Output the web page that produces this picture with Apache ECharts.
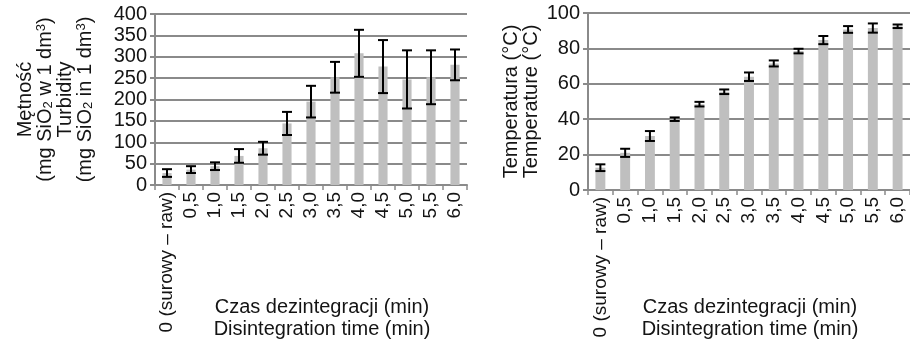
<!DOCTYPE html>
<html><head><meta charset="utf-8">
<script src="https://cdn.jsdelivr.net/npm/echarts@6/dist/echarts.min.js"></script>
<style>html,body{margin:0;padding:0;background:#fff}#c{width:910px;height:346px}</style>
</head><body><div id="c"></div>
<script>
const categories = ['0 (surowy – raw)','0,5','1,0','1,5','2,0','2,5','3,0','3,5','4,0','4,5','5,0','5,5','6,0'];
const turbidity = [28, 36, 44, 68, 86, 144, 195, 252, 308, 277, 247, 252, 281];
const turbidityErr = [9, 8, 9, 16, 15, 27, 37, 36, 55, 62, 68, 63, 36];
const temperature = [12.6, 21, 30.5, 40, 48.5, 55.5, 64, 71.5, 78.5, 84.7, 90.7, 91.5, 92.5];
const temperatureErr = [1.9, 2.3, 2.8, 1, 1.3, 1.3, 2.4, 1.7, 1.3, 2.3, 1.9, 2.6, 1];
const leftTicks = {min: 0, max: 400, interval: 50};
const rightTicks = {min: 0, max: 100, interval: 20};

const FONT = 'Liberation Sans';
const TXT = '#141414';
const GRID = '#8a8a8a';
const BAR = '#bfbfbf';

const rich = {
  t: {fontFamily: FONT, fontSize: 20, color: TXT, lineHeight: 20},
  sub: {fontFamily: FONT, fontSize: 13, color: TXT, verticalAlign: 'bottom'},
  sup: {fontFamily: FONT, fontSize: 13, color: TXT, verticalAlign: 'top'}
};

function errSeries(xi, yi, means, errs) {
  return {
    type: 'custom', xAxisIndex: xi, yAxisIndex: yi, silent: true, z: 5,
    data: means.map((m, i) => [i, m - errs[i], m + errs[i]]),
    renderItem: function (params, api) {
      const lo = api.coord([api.value(0), api.value(1)]);
      const hi = api.coord([api.value(0), api.value(2)]);
      const w = 5;
      const st = {stroke: '#000', lineWidth: 2};
      return {type: 'group', children: [
        {type: 'line', shape: {x1: lo[0], y1: lo[1], x2: hi[0], y2: hi[1]}, style: st},
        {type: 'line', shape: {x1: lo[0]-w, y1: lo[1], x2: lo[0]+w, y2: lo[1]}, style: st},
        {type: 'line', shape: {x1: hi[0]-w, y1: hi[1], x2: hi[0]+w, y2: hi[1]}, style: st}
      ]};
    }
  };
}

function xAx(gi, gap, pad) {
  return {
    type: 'category', gridIndex: gi, data: categories,
    axisLine: {lineStyle: {color: GRID, width: 2}},
    axisTick: {show: true, length: 5, lineStyle: {color: GRID, width: 1.5}},
    axisLabel: {rotate: 90, margin: 7, interval: 0, hideOverlap: false, fontFamily: FONT, fontSize: 19, color: TXT},
    name: 'Czas dezintegracji (min)\nDisintegration time (min)',
    nameLocation: 'middle', nameGap: gap, nameMoveOverlap: false,
    nameTextStyle: {fontFamily: FONT, fontSize: 20, color: TXT, lineHeight: 22, padding: pad}
  };
}
function yAx(gi, t, name, gap) {
  return {
    type: 'value', gridIndex: gi, min: t.min, max: t.max, interval: t.interval,
    axisLine: {show: true, lineStyle: {color: GRID, width: 2}},
    axisTick: {show: true, length: 5, lineStyle: {color: GRID, width: 2}},
    splitLine: {show: true, lineStyle: {color: GRID, width: 2}},
    axisLabel: {margin: 8, showMinLabel: true, showMaxLabel: true, hideOverlap: false, fontFamily: FONT, fontSize: 20, color: TXT},
    name: name, nameLocation: 'middle', nameRotate: 90, nameGap: gap, nameMoveOverlap: false,
    nameTextStyle: {rich: rich, align: 'center'}
  };
}

const chart = echarts.init(document.getElementById('c'), null, {renderer: 'canvas'});
chart.setOption({
  animation: false,
  backgroundColor: '#fff',
  grid: [
    {left: 155, right: 443, top: 14, bottom: 161, containLabel: false, outerBoundsMode: 'none'},
    {left: 588, right: 0, top: 13, bottom: 156, containLabel: false, outerBoundsMode: 'none'}
  ],
  xAxis: [xAx(0, 111, [0, 0, 0, 22]), xAx(1, 106, [0, 0, 0, 2])],
  yAxis: [
    yAx(0, leftTicks, '{t|Mętność}\n{t|(mg SiO}{sub|2}{t| w 1 dm}{sup|3}{t|)}\n{t|Turbidity}\n{t|(mg SiO}{sub|2}{t| in 1 dm}{sup|3}{t|)}', 60),
    yAx(1, rightTicks, '{t|Temperatura (°C)}\n{t|Temperature (°C)}', 47)
  ],
  series: [
    {type: 'bar', xAxisIndex: 0, yAxisIndex: 0, data: turbidity, barWidth: '38%', itemStyle: {color: BAR}},
    errSeries(0, 0, turbidity, turbidityErr),
    {type: 'bar', xAxisIndex: 1, yAxisIndex: 1, data: temperature, barWidth: '40%', itemStyle: {color: BAR}},
    errSeries(1, 1, temperature, temperatureErr)
  ]
});
</script></body></html>
